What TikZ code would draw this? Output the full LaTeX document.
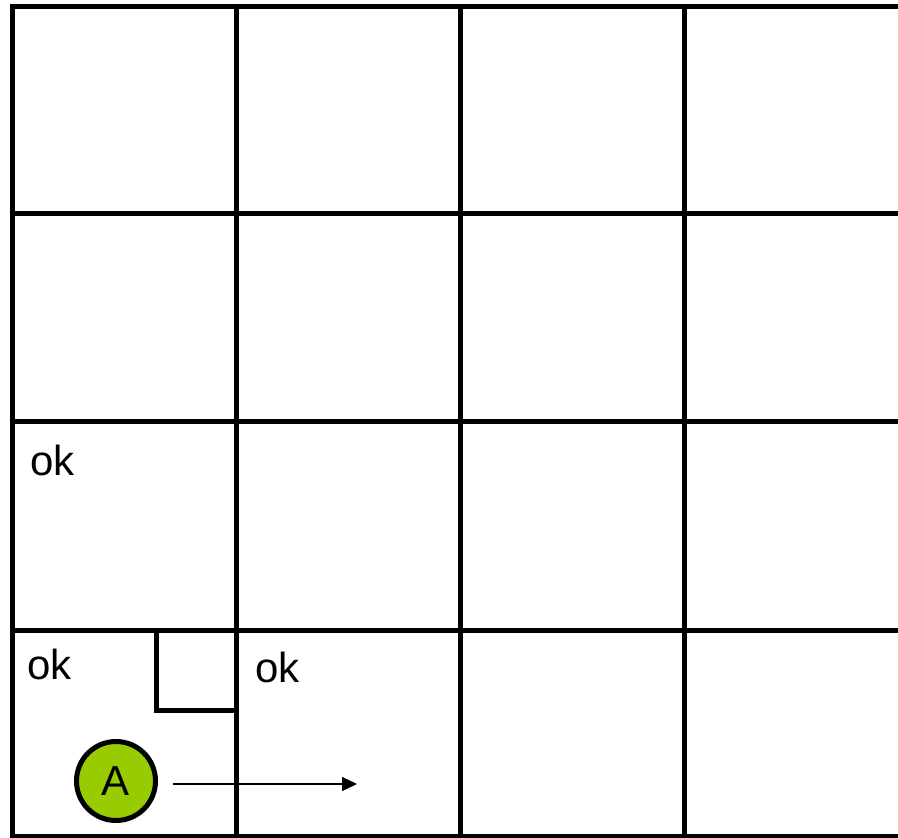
\documentclass[tikz,border=0pt]{standalone}
\usepackage{fontspec}
\setmainfont{Liberation Sans}
\usetikzlibrary{arrows.meta}
\definecolor{agreen}{HTML}{99CC00}
\begin{document}
\begin{tikzpicture}[x=1pt,y=-1pt,
  gridline/.style={line width=5pt,line join=miter,line cap=rect},
  oktext/.style={anchor=base west,inner sep=0pt,font=\fontsize{42}{42}\selectfont},
  agent/.style={circle,draw=black,line width=5pt,fill=agreen,minimum size=79pt,inner sep=0pt,font=\fontsize{42}{42}\selectfont},
  move/.style={line width=1.3pt,-{Triangle[length=15pt,width=14pt]}}]
\useasboundingbox (0,0) rectangle (898,838);
\clip (0,0) rectangle (898,838);
\fill[white] (0,0) rectangle (898,838);
% grid
\foreach \x in {12,236,460,684} {\draw[gridline] (\x,6) -- (\x,836);}
\foreach \y in {6,213,421,630,836} {\draw[gridline] (12,\y) -- (920,\y);}
% small square in bottom-left cell
\draw[gridline,line cap=butt] (236,630) -- (156,630) -- (156,710) -- (236,710);
% labels
\node[oktext] (ok1) at (30,475) {ok};
\node[oktext] (ok2) at (27,679) {ok};
\node[oktext] (ok3) at (255,682) {ok};
% agent
\node[agent] (A) at (116,781) {A};
\coordinate (s) at (173,784);
\coordinate (e) at (357,784);
\draw[move] (s) -- (e);
\end{tikzpicture}
\end{document}
